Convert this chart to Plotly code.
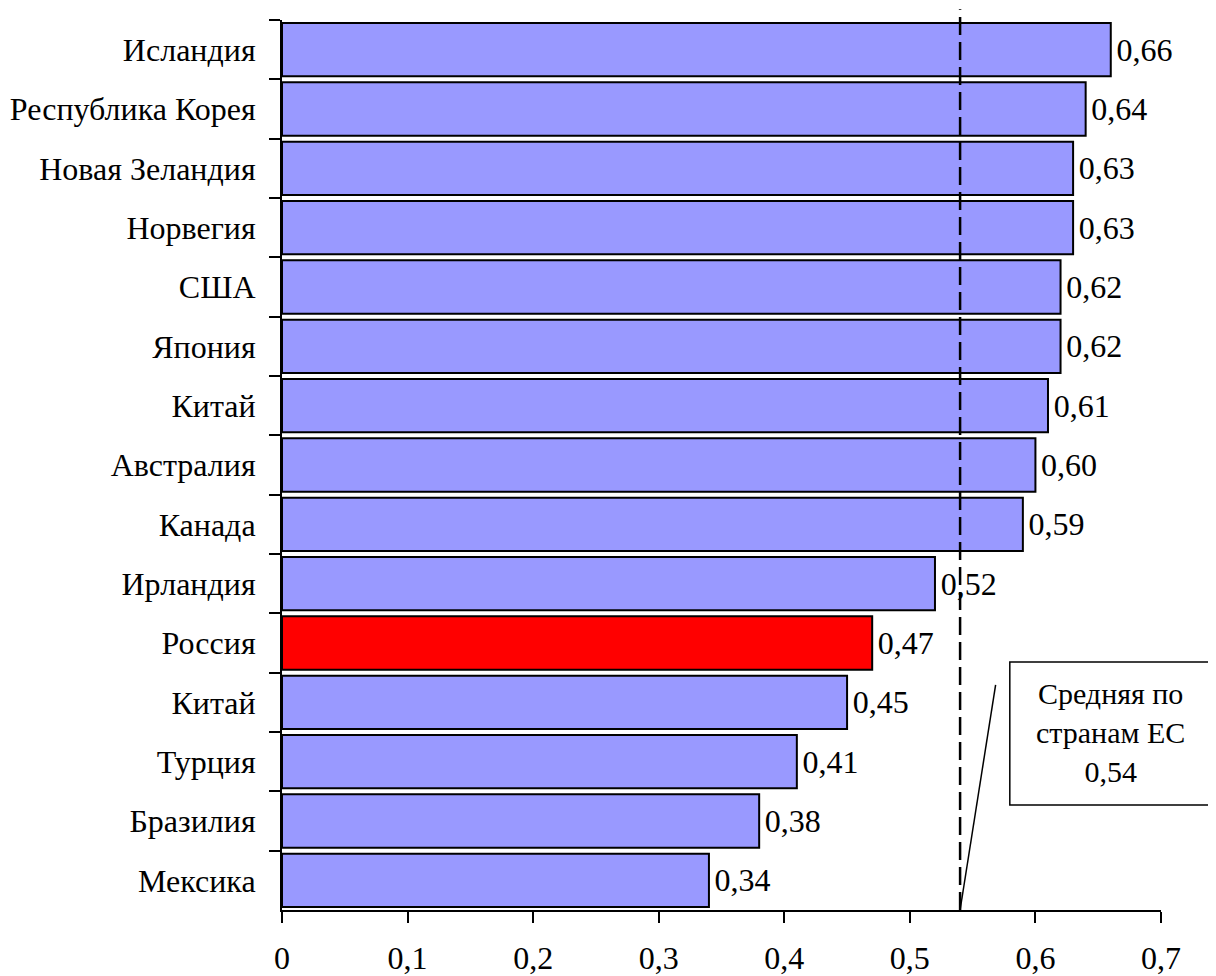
import plotly.graph_objects as go

countries = ["Исландия", "Республика Корея", "Новая Зеландия", "Норвегия", "США",
             "Япония", "Китай", "Австралия", "Канада", "Ирландия", "Россия",
             "Китай\u200b", "Турция", "Бразилия", "Мексика"]
values = [0.66, 0.64, 0.63, 0.63, 0.62, 0.62, 0.61, 0.60, 0.59, 0.52, 0.47,
          0.45, 0.41, 0.38, 0.34]
highlight = "Россия"
eu_average = 0.54
x_ticks = [0, 0.1, 0.2, 0.3, 0.4, 0.5, 0.6, 0.7]

colors = ["#FF0000" if c == highlight else "#9999FF" for c in countries]
FONT = "Times New Roman, Liberation Serif, DejaVu Serif, serif"
FS = 32

fig = go.Figure(go.Bar(
    x=values, y=countries, orientation="h",
    marker=dict(color=colors, line=dict(color="black", width=2)),
    texttemplate="\u200a%{x:.2f}", textposition="outside",
    textfont=dict(family=FONT, size=FS, color="black"),
    cliponaxis=False,
))

fig.update_layout(
    template="none",
    width=1208, height=968,
    margin=dict(l=274, r=55, t=12, b=66),
    plot_bgcolor="white", paper_bgcolor="white",
    separators=",.",
    bargap=0.1,
    showlegend=False,
    font=dict(family=FONT, size=FS, color="black"),
)
fig.update_yaxes(
    type="category", autorange="reversed", automargin=False,
    showline=True, linecolor="black", linewidth=2,
    ticks="outside", ticklen=11, tickwidth=2, tickcolor="black",
    tickson="boundaries", ticklabelstandoff=18,
    showgrid=False, zeroline=False,
    tickfont=dict(family=FONT, size=FS, color="black"),
)
fig.update_xaxes(
    range=[0, 0.7], tickvals=x_ticks, automargin=False,
    showline=True, linecolor="black", linewidth=2,
    ticks="outside", ticklen=11, tickwidth=2, tickcolor="black",
    ticklabelstandoff=8,
    showgrid=False, zeroline=False,
    tickfont=dict(family=FONT, size=FS, color="black"),
)

# EU average dashed line
fig.add_shape(type="line", xref="x", yref="paper", x0=eu_average, x1=eu_average,
              y0=0, y1=1.012, line=dict(color="black", width=2.5, dash="18px,7px"))
# pointer line
fig.add_shape(type="line", xref="x", yref="paper", x0=eu_average, x1=0.5683,
              y0=0, y1=0.253, line=dict(color="black", width=1.5))
# callout box
fig.add_shape(type="rect", xref="paper", yref="paper", x0=0.828, x1=1.056,
              y0=0.118, y1=0.2787, line=dict(color="black", width=1.5),
              fillcolor="white")
fig.add_annotation(xref="paper", yref="paper", x=0.942, y=0.199,
                   xanchor="center", yanchor="middle",
                   text="Средняя по<br>странам ЕС<br>0,54", showarrow=False,
                   align="center", font=dict(family=FONT, size=FS - 2, color="black"))

fig.write_html("out.html")
